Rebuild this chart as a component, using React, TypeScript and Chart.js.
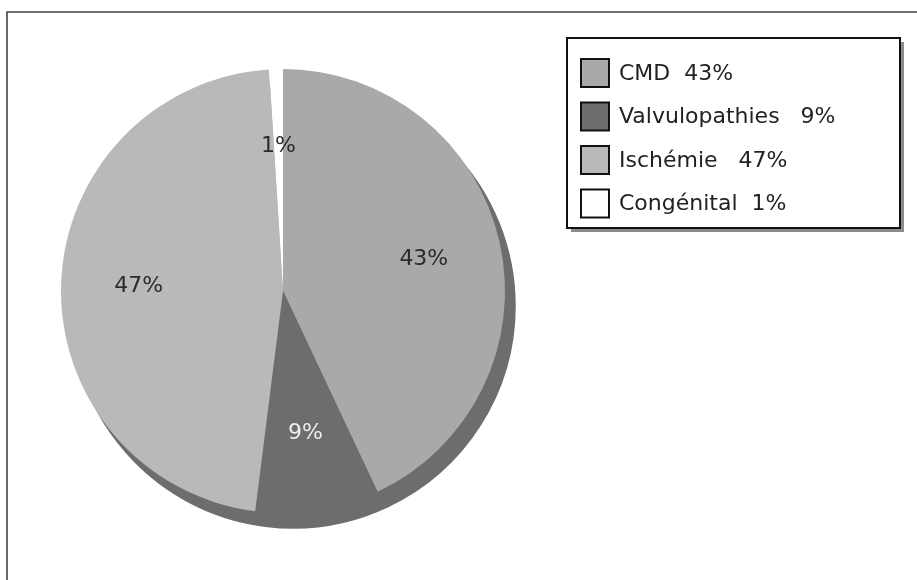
import { useEffect, useRef } from "react";
import { Chart, registerables } from "chart.js";

Chart.register(...registerables);

const categories = ["CMD", "Valvulopathies", "Ischémie", "Congénital"];
const values = [43, 9, 47, 1];
const legendGaps = ["  ", "   ", "   ", "  "];
const sliceColors = ["#a9a9a9", "#6d6d6d", "#b9b9b9", "#ffffff"];
const labelColors = ["#2b2b2b", "#eeeeee", "#2b2b2b", "#2b2b2b"];

const FONT = '"DejaVu Sans", sans-serif';

const decorPlugin = {
  id: "decor",
  beforeDraw(chart: any) {
    const ctx = chart.ctx;
    ctx.save();
    ctx.fillStyle = "#ffffff";
    ctx.fillRect(0, 0, chart.width, chart.height);
    ctx.strokeStyle = "#444444";
    ctx.lineWidth = 1.6;
    ctx.beginPath();
    ctx.moveTo(7, chart.height);
    ctx.lineTo(7, 12);
    ctx.lineTo(chart.width, 12);
    ctx.stroke();
    ctx.restore();
  },
  beforeDatasetsDraw(chart: any) {
    const ctx = chart.ctx;
    const meta = chart.getDatasetMeta(0);
    ctx.save();
    ctx.fillStyle = "#6d6d6d";
    ctx.strokeStyle = "#6d6d6d";
    ctx.lineWidth = 1.5;
    ctx.lineJoin = "round";
    meta.data.forEach((arc: any) => {
      const { x, y, startAngle, endAngle, outerRadius } = arc.getProps(
        ["x", "y", "startAngle", "endAngle", "outerRadius"],
        true
      );
      ctx.beginPath();
      ctx.moveTo(x + 10, y + 15);
      ctx.arc(x + 10, y + 15, outerRadius, startAngle, endAngle);
      ctx.closePath();
      ctx.fill();
      ctx.stroke();
    });
    ctx.restore();
  },
  afterDatasetsDraw(chart: any) {
    const ctx = chart.ctx;
    const meta = chart.getDatasetMeta(0);
    ctx.save();
    ctx.font = `22px ${FONT}`;
    ctx.textAlign = "center";
    ctx.textBaseline = "middle";
    meta.data.forEach((arc: any, i: number) => {
      const { x, y, startAngle, endAngle, outerRadius } = arc.getProps(
        ["x", "y", "startAngle", "endAngle", "outerRadius"],
        true
      );
      const mid = (startAngle + endAngle) / 2;
      const r = outerRadius * 0.65;
      ctx.fillStyle = labelColors[i];
      ctx.fillText(`${values[i]}%`, x + Math.cos(mid) * r, y + Math.sin(mid) * r);
    });
    ctx.restore();
  },
  afterDraw(chart: any) {
    const ctx = chart.ctx;
    const bx = 567, by = 38, bw = 333, bh = 190;
    ctx.save();
    ctx.fillStyle = "#8c8c8c";
    ctx.fillRect(bx + 4, by + 4, bw, bh);
    ctx.fillStyle = "#ffffff";
    ctx.fillRect(bx, by, bw, bh);
    ctx.strokeStyle = "#111111";
    ctx.lineWidth = 2;
    ctx.strokeRect(bx, by, bw, bh);
    ctx.font = `22px ${FONT}`;
    ctx.textAlign = "left";
    ctx.textBaseline = "middle";
    categories.forEach((c, i) => {
      const cy = 73 + i * 43.5;
      ctx.fillStyle = sliceColors[i];
      ctx.fillRect(581, cy - 14, 28, 28);
      ctx.strokeStyle = "#111111";
      ctx.lineWidth = 2;
      ctx.strokeRect(581, cy - 14, 28, 28);
      ctx.fillStyle = "#222222";
      ctx.fillText(`${c}${legendGaps[i]}${values[i]}%`, 619, cy + 1);
    });
    ctx.restore();
  },
};

export default function App() {
  const ref = useRef<HTMLCanvasElement | null>(null);
  useEffect(() => {
    if (!ref.current) return;
    const chart = new Chart(ref.current, {
      type: "pie",
      data: {
        labels: categories,
        datasets: [
          {
            data: values,
            backgroundColor: sliceColors,
            borderWidth: 0,
          },
        ],
      },
      options: {
        responsive: false,
        animation: false,
        layout: { padding: { left: 61, top: 69, right: 412, bottom: 67 } },
        plugins: {
          legend: { display: false },
          tooltip: { enabled: false },
        },
      },
      plugins: [decorPlugin],
    });
    return () => chart.destroy();
  }, []);
  return (
    <div style={{ position: "absolute", left: 0, top: 0, width: 917, height: 580 }}>
      <canvas ref={ref} width={917} height={580} />
    </div>
  );
}
